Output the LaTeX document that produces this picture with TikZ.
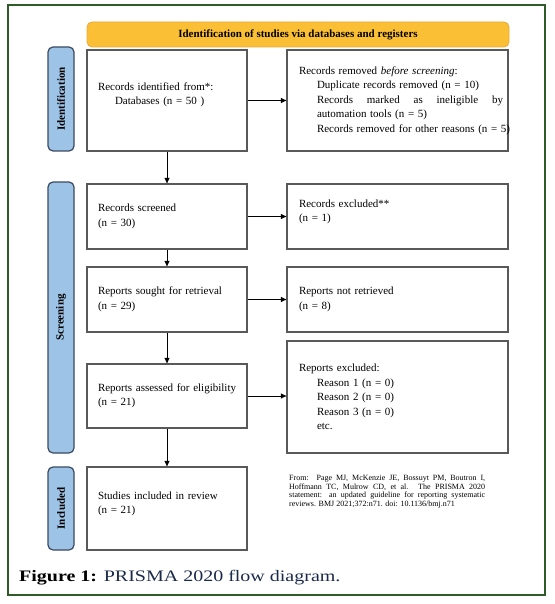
\documentclass[tikz,border=0pt]{standalone}
\usepackage{fontspec}
\setmainfont{Liberation Serif}
\newfontfamily\capfont[FakeStretch=1.25]{Liberation Serif}
\usetikzlibrary{positioning}
\usetikzlibrary{arrows.meta}

\definecolor{framegreen}{HTML}{2F5B29}
\definecolor{bannerfill}{HTML}{FBBF35}
\definecolor{bannerdraw}{HTML}{E9A93C}
\definecolor{phasefill}{HTML}{9DC3E6}
\definecolor{phasedraw}{HTML}{3A4A60}
\definecolor{boxdraw}{HTML}{595959}
\definecolor{captionblue}{HTML}{1B2A4A}

\newcommand{\lift}[1]{\rule[-#1]{0pt}{#1}}

\tikzset{
	leftbox/.style={draw=boxdraw, line width=1.3pt, fill=white, text width=138pt, inner xsep=11pt, align=left, font=\fontsize{11}{14.5}\selectfont},
	rightbox/.style={leftbox, text width=197pt, inner xsep=12pt},
	phase/.style={draw=phasedraw, line width=1.2pt, fill=phasefill, rounded corners=5pt, rotate=90, minimum height=26pt, inner sep=0pt, font=\bfseries\fontsize{11}{13}\selectfont},
	flow/.style={line width=0.6pt, -{Triangle[length=5.5pt,width=5pt]}},
}

\begin{document}
\begin{tikzpicture}[x=1pt,y=-1pt]
	\useasboundingbox (0,0) rectangle (554,604);
	
	% FRAME
	\draw[framegreen, line width=2.5pt] (8,5) rectangle (545,595);
	
	% BANNER
	\node[draw=bannerdraw, line width=0.8pt, fill=bannerfill, rounded corners=5pt, minimum width=422pt, minimum height=25pt, font=\bfseries\fontsize{11}{13}\selectfont] (banner) at (298,34.5) {Identification of studies via databases and registers};
	
	% PHASE LABELS
	\node[phase, minimum width=104pt] (phaseIdent) at (61,99) {Identification};
	\node[phase, minimum width=271pt] (phaseScreen) at (61,317.5) {Screening};
	\node[phase, minimum width=83pt] (phaseIncl) at (61,508.5) {Included};
	
	% IDENTIFICATION
	\node[leftbox, minimum height=101pt] (identified) at (167,100.5) {Records identified from*:\\\hspace*{17pt}Databases (n = 50 )\lift{14pt}};
	\node[rightbox, minimum height=101pt] (removed) at (397.5,100.5) {Records removed \textit{before screening}:\\
		\hspace*{18pt}\mbox{Duplicate records removed (n = 10)}\\
		\hspace*{18pt}\hbox to 186pt{Records\hfill marked\hfill as\hfill ineligible\hfill by}\\
		\hspace*{18pt}\mbox{automation tools (n = 5)}\\
		\hspace*{18pt}\mbox{Records removed for other reasons (n = 5)}};
	
	% SCREENING
	\node[leftbox, minimum height=65pt] (screened) at (167,216.5) {Records screened\\(n = 30)};
	\node[rightbox, minimum height=65pt] (excluded) at (397.5,216.5) {Records excluded**\\(n = 1)\lift{12pt}};
	
	\node[leftbox, minimum height=65pt] (sought) at (167,299.5) {Reports sought for retrieval\\(n = 29)};
	\node[rightbox, minimum height=65pt] (notRetrieved) at (397.5,299.5) {Reports not retrieved\\(n = 8)};
	
	\node[leftbox, minimum height=64pt] (assessed) at (167,396) {\mbox{Reports assessed for eligibility}\\(n = 21)};
	\node[rightbox, minimum height=112pt] (reportsExcl) at (397.5,397) {Reports excluded:\\
		\hspace*{18pt}Reason 1 (n = 0)\\
		\hspace*{18pt}Reason 2 (n = 0)\\
		\hspace*{18pt}Reason 3 (n = 0)\\
		\hspace*{18pt}etc.};
	
	% INCLUDED
	\node[leftbox, minimum height=83pt] (studies) at (167,508.5) {Studies included in review\\(n = 21)\lift{12pt}};
	
	\node[anchor=north west, inner sep=0pt, text width=196pt, align=justify, font=\fontsize{8}{8.6}\selectfont] (source) at (289,475) {From:\ \ Page MJ, McKenzie JE, Bossuyt PM, Boutron I,\linebreak Hoffmann TC, Mulrow CD, et al. The PRISMA 2020\linebreak statement: an updated guideline for reporting systematic\linebreak reviews. BMJ 2021;372:n71. doi: 10.1136/bmj.n71};
	
	% CAPTION
	\node[anchor=base west, inner sep=0pt, font=\capfont\fontsize{16}{18}\selectfont] (caption) at (19,581) {\textbf{Figure 1:} \textcolor{captionblue}{PRISMA 2020 flow diagram.}};
	
	% ARROWS
	\draw[flow] (identified) -- (removed);
	\draw[flow] (screened) -- (excluded);
	\draw[flow] (sought) -- (notRetrieved);
	\draw[flow] (assessed.east) -- (assessed.east -| reportsExcl.west);
	
	\draw[flow] (identified) -- (screened);
	\draw[flow] (screened) -- (sought);
	\draw[flow] (sought) -- (assessed);
	\draw[flow] (assessed) -- (studies);
\end{tikzpicture}
\end{document}
